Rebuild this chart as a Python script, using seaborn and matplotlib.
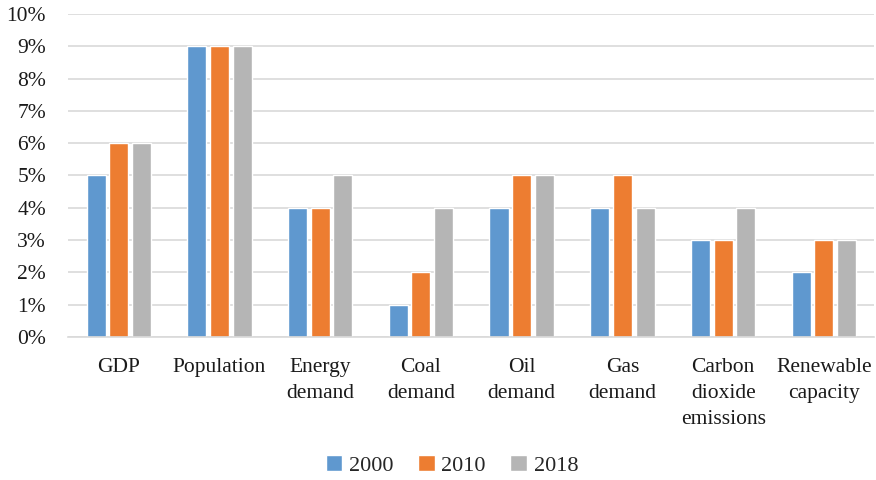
import matplotlib
matplotlib.use("Agg")
import matplotlib.pyplot as plt
import seaborn as sns
import pandas as pd
from matplotlib.ticker import PercentFormatter

categories = ["GDP", "Population", "Energy\ndemand", "Coal\ndemand", "Oil\ndemand",
              "Gas\ndemand", "Carbon\ndioxide\nemissions", "Renewable\ncapacity"]
years = ["2000", "2010", "2018"]
share_2000 = [5, 9, 4, 1, 4, 4, 3, 2]
share_2010 = [6, 9, 4, 2, 5, 5, 3, 3]
share_2018 = [6, 9, 5, 4, 5, 4, 4, 3]
colors = ["#5f98cf", "#ed7d31", "#b5b5b5"]

rows = []
for year, vals in zip(years, [share_2000, share_2010, share_2018]):
    for cat, v in zip(categories, vals):
        rows.append({"category": cat, "year": year, "value": v})
df = pd.DataFrame(rows)

sns.set_theme(style="white")
plt.rcParams["font.family"] = ["Liberation Serif", "DejaVu Serif"]

fig = plt.figure(figsize=(8.76, 4.8), dpi=100)
ax = fig.add_axes([0.078, 0.298, 0.92, 0.673])

sns.barplot(data=df, x="category", y="value", hue="year", order=categories,
            hue_order=years, palette=colors, width=0.675, gap=0.16,
            saturation=1, ax=ax, legend=True)

ax.set_ylim(0, 10)
ax.set_yticks(range(0, 11))
ax.yaxis.set_major_formatter(PercentFormatter(decimals=0))
ax.set_xlim(-0.5, len(categories) - 0.5)
ax.grid(axis="y", color="#d9d9d9", linewidth=1.2)
ax.set_axisbelow(True)
for side in ["top", "right", "left"]:
    ax.spines[side].set_visible(False)
ax.spines["bottom"].set_color("#d9d9d9")
ax.spines["bottom"].set_linewidth(1.2)
ax.tick_params(axis="both", length=0, labelsize=15.5, colors="#1a1a1a")
ax.tick_params(axis="y", pad=16)
ax.tick_params(axis="x", pad=15)
for lbl in ax.get_xticklabels():
    lbl.set_linespacing(1.5)
ax.set_xlabel("")
ax.set_ylabel("")

handles, labels = ax.get_legend_handles_labels()
ax.legend_.remove()
fig.legend(handles, labels, loc="center", bbox_to_anchor=(0.516, 0.031), ncol=3,
           frameon=False, fontsize=16, handlelength=0.75, handleheight=0.75,
           handletextpad=0.3, columnspacing=1.1)

fig.savefig("out.png", dpi=100)
